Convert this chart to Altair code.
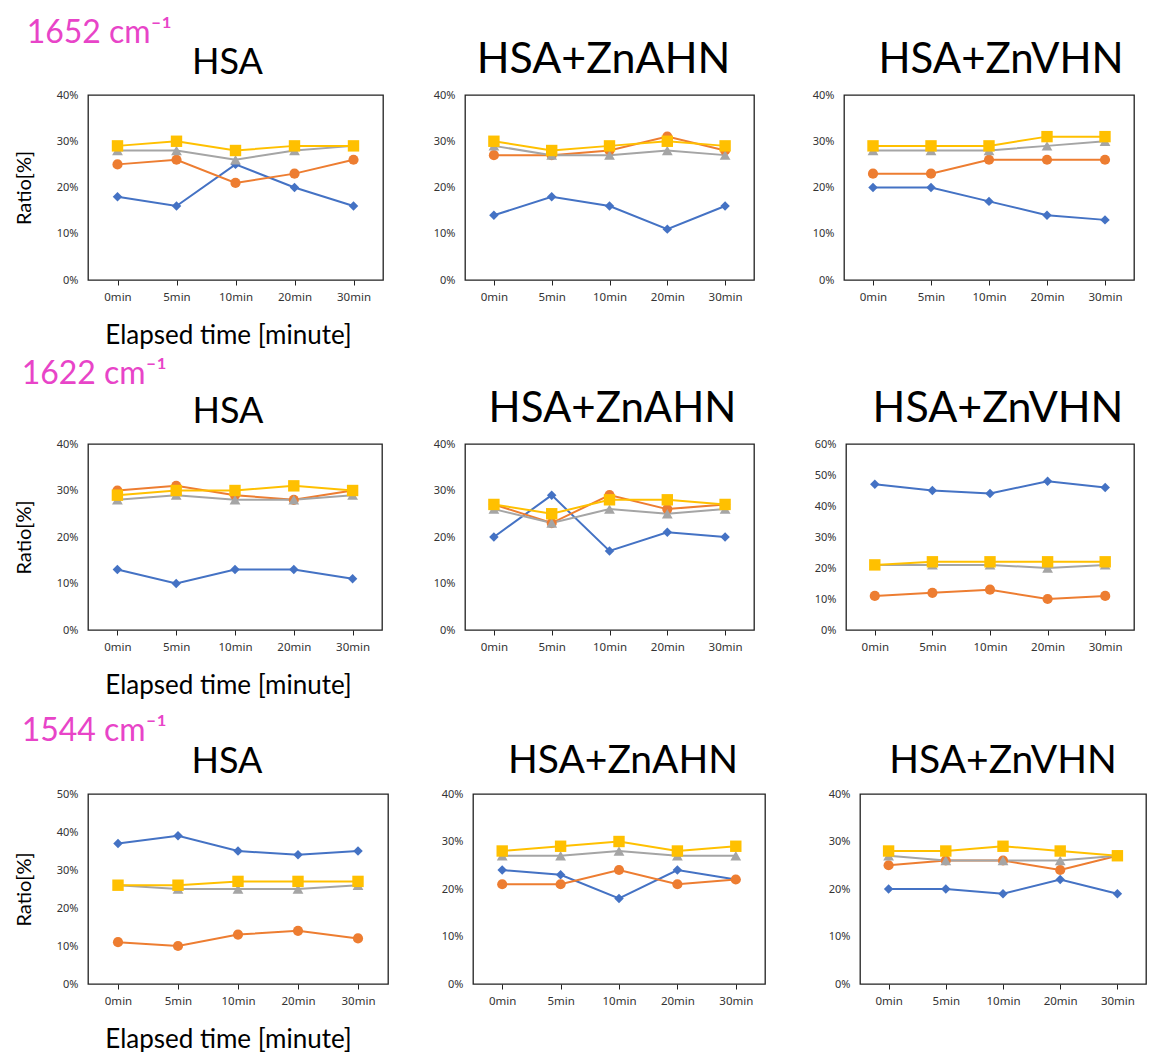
import altair as alt
import pandas as pd

times = ["0min", "5min", "10min", "20min", "30min"]
series = ["Series1", "Series2", "Series3", "Series4"]
colors = ["#4472C4", "#ED7D31", "#A5A5A5", "#FFC000"]
shapes = ["diamond", "circle", "triangle-up", "square"]
sizes = [90, 130, 90, 140]

# 1652 cm-1
hsa_1652 = [[18, 16, 25, 20, 16], [25, 26, 21, 23, 26], [28, 28, 26, 28, 29], [29, 30, 28, 29, 29]]
ahn_1652 = [[14, 18, 16, 11, 16], [27, 27, 28, 31, 28], [29, 27, 27, 28, 27], [30, 28, 29, 30, 29]]
vhn_1652 = [[20, 20, 17, 14, 13], [23, 23, 26, 26, 26], [28, 28, 28, 29, 30], [29, 29, 29, 31, 31]]
# 1622 cm-1
hsa_1622 = [[13, 10, 13, 13, 11], [30, 31, 29, 28, 30], [28, 29, 28, 28, 29], [29, 30, 30, 31, 30]]
ahn_1622 = [[20, 29, 17, 21, 20], [27, 23, 29, 26, 27], [26, 23, 26, 25, 26], [27, 25, 28, 28, 27]]
vhn_1622 = [[47, 45, 44, 48, 46], [11, 12, 13, 10, 11], [21, 21, 21, 20, 21], [21, 22, 22, 22, 22]]
# 1544 cm-1
hsa_1544 = [[37, 39, 35, 34, 35], [11, 10, 13, 14, 12], [26, 25, 25, 25, 26], [26, 26, 27, 27, 27]]
ahn_1544 = [[24, 23, 18, 24, 22], [21, 21, 24, 21, 22], [27, 27, 28, 27, 27], [28, 29, 30, 28, 29]]
vhn_1544 = [[20, 20, 19, 22, 19], [25, 26, 26, 24, 27], [27, 26, 26, 26, 27], [28, 28, 29, 28, 27]]

row_labels = ["1652 cm\u207b\u00b9", "1622 cm\u207b\u00b9", "1544 cm\u207b\u00b9"]
panel_titles = ["HSA", "HSA+ZnAHN", "HSA+ZnVHN"]
y_max = [[40, 40, 40], [40, 40, 60], [50, 40, 40]]
panel_data = [[hsa_1652, ahn_1652, vhn_1652],
              [hsa_1622, ahn_1622, vhn_1622],
              [hsa_1544, ahn_1544, vhn_1544]]
widths = [[295, 289, 290], [294, 289, 288], [300, 292, 286]]
heights = [185, 186, 190]
title_sizes = [[36, 43, 42], [36, 42, 43], [36, 39, 39]]
title_dx = [[-8, -6, 12], [-7, 3, 8], [-11, 4, 0]]
spacing12 = [48, 49, 51]
spacing23 = [56, 58, 61]
row_dx = [13, 8, 8]
row_dy = [12, 4, 7]

FONT = "Lato"
TICKFONT = "Noto Sans"


def make_df(vals):
    rows = []
    for s, vs in zip(series, vals):
        for t, v in zip(times, vs):
            rows.append({"time": t, "series": s, "value": v})
    return pd.DataFrame(rows)


def panel(r, c):
    df = make_df(panel_data[r][c])
    ymax = y_max[r][c]
    first = c == 0
    x = alt.X(
        "time:N", sort=times,
        title="Elapsed time [minute]" if first else None,
        axis=alt.Axis(labelAngle=0, tickSize=5, tickColor="#222", domain=False,
                      labelPadding=6, labelFontSize=11.5, labelFont=TICKFONT,
                      labelColor="#333", titleFontSize=26, titleFont=FONT,
                      titleFontWeight="normal", titlePadding=20, titleColor="#000",
                      titleX=140),
    )
    y = alt.Y(
        "value:Q", scale=alt.Scale(domain=[0, ymax], nice=False),
        title="Ratio[%]" if first else None,
        axis=alt.Axis(values=list(range(0, ymax + 1, 10)), labelExpr="datum.value + '%'",
                      tickSize=0, domain=False, grid=False, labelPadding=10,
                      labelFontSize=11, labelFont=TICKFONT, labelColor="#333",
                      titleFontSize=20, titleFont=FONT, titleFontWeight="normal",
                      titlePadding=22, titleColor="#000"),
    )
    color = alt.Color("series:N", scale=alt.Scale(domain=series, range=colors), legend=None)
    base = alt.Chart(df)
    lines = base.mark_line(strokeWidth=2).encode(x=x, y=y, color=color)
    pts = base.mark_point(filled=True, opacity=1).encode(
        x=x, y=y, color=color,
        shape=alt.Shape("series:N", scale=alt.Scale(domain=series, range=shapes), legend=None),
        size=alt.Size("series:N", scale=alt.Scale(domain=series, range=sizes), legend=None),
    )
    return alt.layer(lines, pts).properties(
        width=widths[r][c], height=heights[r],
        title=alt.TitleParams(panel_titles[c], fontSize=title_sizes[r][c], font=FONT,
                              fontWeight="normal", color="#000", offset=7,
                              dx=title_dx[r][c]),
    )


rows = []
for r in range(3):
    inner = alt.hconcat(panel(r, 0), panel(r, 1), spacing=spacing12[r])
    rows.append(alt.hconcat(
        inner, panel(r, 2), spacing=spacing23[r],
        title=alt.TitleParams(row_labels[r], anchor="start", fontSize=32, font=FONT,
                              fontWeight="normal", color="#E844C8", offset=0,
                              dx=row_dx[r], dy=row_dy[r]),
    ))

top = alt.vconcat(rows[0], rows[1], spacing=8)
chart = alt.vconcat(top, rows[2], spacing=15).properties(
    padding={"left": 13, "top": 17, "right": 0, "bottom": 0},
    background="white",
).configure_view(stroke="#222", strokeWidth=1.3)

chart.save("out.html", embed_options={"renderer": "svg", "actions": False})
